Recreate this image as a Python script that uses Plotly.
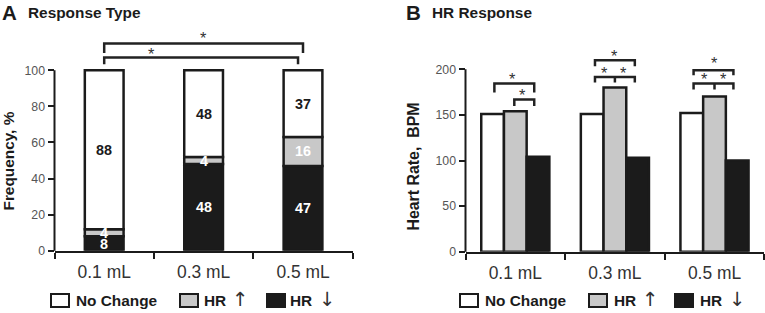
import numpy as np
import plotly.graph_objects as go

# ---------------- data ----------------
doses = ["0.1 mL", "0.3 mL", "0.5 mL"]
series_names = ["No Change", "HR ↑", "HR ↓"]
legend_bold = ["No Change", "HR", "HR"]
legend_arrow = ["", "↑", "↓"]

freq_no_change = [88, 48, 37]
freq_hr_up = [4, 4, 16]
freq_hr_down = [8, 48, 47]

hr_no_change = [151, 151, 152]
hr_up = [154, 180, 170]
hr_down = [104, 103, 100]

freq_ticks = [0, 20, 40, 60, 80, 100]
hr_ticks = [0, 50, 100, 150, 200]

# significance brackets: (x_left, x_right, y_bar, y_leg_end, middle leg x or None)
brackets_a = [
    (0, 2, 114.8, 109.6, None),
    (0, 1.95, 107.0, 103.3, None),
]
stars_a = [(1.0, 120.0), (0.48, 111.1)]

brackets_b = [
    (0 - 0.21, 0 + 0.19, 184.3, 174.4, None),
    (0 - 0.01, 0 + 0.19, 166.7, 159.7, None),
    (1 - 0.20, 1 + 0.20, 209.9, 203.3, None),
    (1 - 0.20, 1 + 0.20, 191.5, 185.4, 1.0),
    (2 - 0.21, 2 + 0.19, 198.9, 193.4, None),
    (2 - 0.21, 2 + 0.19, 184.3, 177.7, 2.0),
]
stars_b = [(-0.03, 193.4), (0.07, 175.8),
           (1.0, 219.0), (0.9, 200.8), (1.09, 200.8),
           (2.0, 211.0), (1.9, 193.4), (2.09, 193.4)]

# ---------------- style ----------------
W, H = 765, 313          # target picture size
HF = 321                 # page height of the figure (the viewer scales it to H)
S = HF / H
FONT = "Liberation Sans, Arial, sans-serif"
FILLS = ["#ffffff", "#c8c8c8", "#1b1b1b"]
EDGE = "#1b1b1b"
TXT = "#333333"
A_YMAX = 130
B_YMAX = 230


def px(x):
    return x / W


def py(y):
    return 1 - y / H


def fs(v):
    return round(v * S, 2)


fig = go.Figure()

# ---------- Panel A: stacked (built with explicit bases) ----------
down = np.array(freq_hr_down)
up = np.array(freq_hr_up)
nc = np.array(freq_no_change)
stack_a = [(series_names[2], down, np.zeros(3), FILLS[2], "white"),
           (series_names[1], up, down, FILLS[1], "white"),
           (series_names[0], nc, down + up, FILLS[0], "#1b1b1b")]
for name, vals, base, fill, tcol in stack_a:
    fig.add_trace(go.Bar(
        x=doses, y=vals, base=base, name=name, xaxis="x", yaxis="y",
        width=0.39, offset=-0.195,
        marker=dict(color=fill, line=dict(color=EDGE, width=2.5)),
        showlegend=False, hoverinfo="skip"))

annotations = []
for name, vals, base, fill, tcol in stack_a:
    for i, (v, b) in enumerate(zip(vals, base)):
        annotations.append(dict(
            x=i, y=b + v / 2, xref="x", yref="y", text=f"<b>{v}</b>",
            showarrow=False, font=dict(size=fs(14), color=tcol, family=FONT),
            xanchor="center", yanchor="middle"))

# ---------- Panel B: grouped ----------
bw = 0.228
hr_series = [hr_no_change, hr_up, hr_down]
for k, (name, vals) in enumerate(zip(series_names, hr_series)):
    fig.add_trace(go.Bar(
        x=doses, y=vals, name=name, xaxis="x2", yaxis="y2",
        width=bw, offset=-1.5 * bw + k * bw,
        marker=dict(color=FILLS[k], line=dict(color=EDGE, width=2.5)),
        showlegend=False, hoverinfo="skip"))

shapes = []


def add_bracket(xr, yr, x0, x1, yb, yl, mid):
    shapes.append(dict(type="path", xref=xr, yref=yr,
                       path=f"M {x0},{yl} L {x0},{yb} L {x1},{yb} L {x1},{yl}",
                       line=dict(color="#222", width=2.5)))
    if mid is not None:
        shapes.append(dict(type="line", xref=xr, yref=yr, x0=mid, x1=mid,
                           y0=yb, y1=yl, line=dict(color="#222", width=2.5)))


for b in brackets_a:
    add_bracket("x", "y", *b)
for b in brackets_b:
    add_bracket("x2", "y2", *b)

for (sx, sy) in stars_a:
    annotations.append(dict(x=sx, y=sy, xref="x", yref="y", text="*", showarrow=False,
                            font=dict(size=fs(16), color=TXT, family=FONT), yanchor="middle",
                            yshift=-4 * S))
for (sx, sy) in stars_b:
    annotations.append(dict(x=sx, y=sy, xref="x2", yref="y2", text="*", showarrow=False,
                            font=dict(size=fs(16), color=TXT, family=FONT), yanchor="middle",
                            yshift=-4 * S))

# y axis lines (only up to the last tick)
shapes.append(dict(type="line", xref="x domain", yref="y domain", x0=0, x1=0, y0=0,
                   y1=freq_ticks[-1] / A_YMAX, line=dict(color=EDGE, width=2)))
shapes.append(dict(type="line", xref="x2 domain", yref="y2 domain", x0=0, x1=0, y0=0,
                   y1=hr_ticks[-1] / B_YMAX, line=dict(color=EDGE, width=2)))

# panel titles and axis titles
for (xl, txt, size) in [(0, "A", 20), (26, "Response Type", 15), (404, "B", 20), (430, "HR Response", 15)]:
    annotations.append(dict(x=px(xl), y=py(12), xref="paper", yref="paper", text=f"<b>{txt}</b>",
                            showarrow=False, xanchor="left", yanchor="middle",
                            font=dict(size=fs(size), color="#1b1b1b", family=FONT)))
annotations.append(dict(x=px(9), y=py(161), xref="paper", yref="paper", text="<b>Frequency, %</b>",
                        textangle=-90, showarrow=False, xanchor="center", yanchor="middle",
                        font=dict(size=fs(15), color="#1b1b1b", family=FONT)))
annotations.append(dict(x=px(414), y=py(166), xref="paper", yref="paper", text="<b>Heart Rate,  BPM</b>",
                        textangle=-90, showarrow=False, xanchor="center", yanchor="middle",
                        font=dict(size=fs(15.5), color="#1b1b1b", family=FONT)))

# manual legends
legend_layouts = [
    # (box_left, text_left, arrow_center)
    [(51, 74, None), (180, 202, 240), (267, 288, 327)],
    [(460, 483, None), (589, 612, 650), (675, 698, 737)],
]
for lay in legend_layouts:
    for k, (bx, tx, ax) in enumerate(lay):
        shapes.append(dict(type="rect", xref="paper", yref="paper", x0=px(bx), x1=px(bx + 18),
                           y0=py(306), y1=py(293), fillcolor=FILLS[k],
                           line=dict(color=EDGE, width=2)))
        annotations.append(dict(x=px(tx), y=py(300), xref="paper", yref="paper",
                                text=f"<b>{legend_bold[k]}</b>", showarrow=False,
                                xanchor="left", yanchor="middle",
                                font=dict(size=fs(15), color="#1b1b1b", family=FONT)))
        if ax is not None:
            annotations.append(dict(x=px(ax), y=py(299), xref="paper", yref="paper",
                                    text=legend_arrow[k], showarrow=False,
                                    xanchor="center", yanchor="middle",
                                    font=dict(size=fs(19), color=TXT, family="DejaVu Sans")))

xcommon = dict(type="category", range=[-0.5, 2.5], showline=True, linewidth=2, linecolor=EDGE,
               ticks="outside", tickson="boundaries", ticklen=6, tickwidth=2, tickcolor=EDGE,
               tickfont=dict(size=fs(17), color=TXT, family=FONT), showgrid=False, zeroline=False,
               ticklabelstandoff=4)
ycommon = dict(showline=False, ticks="outside", ticklen=6, tickwidth=2, tickcolor=EDGE,
               tickfont=dict(size=fs(12), color="#555", family=FONT), showgrid=False, zeroline=False)

fig.update_layout(
    width=W, height=HF, autosize=False, margin=dict(l=0, r=0, t=0, b=0),
    paper_bgcolor="white", plot_bgcolor="rgba(0,0,0,0)",
    barmode="group", showlegend=False,
    font=dict(family=FONT),
    xaxis=dict(domain=[px(54.5), px(352.7)], anchor="y", **xcommon),
    yaxis=dict(domain=[py(250), py(16)], range=[0, A_YMAX], tickvals=freq_ticks, anchor="x", **ycommon),
    xaxis2=dict(domain=[px(465.5), px(764.3)], anchor="y2", **xcommon),
    yaxis2=dict(domain=[py(251), py(251 - 0.91 * B_YMAX)], range=[0, B_YMAX], tickvals=hr_ticks,
                anchor="x2", **ycommon),
    shapes=shapes, annotations=annotations,
)

page_fix = (
    "document.documentElement.style.margin='0';"
    "document.documentElement.style.overflow='hidden';"
    "document.body.style.margin='0';"
    "document.body.style.overflow='hidden';"
)
fig.write_html("out.html", config={"displayModeBar": False, "responsive": False},
               post_script=page_fix)
